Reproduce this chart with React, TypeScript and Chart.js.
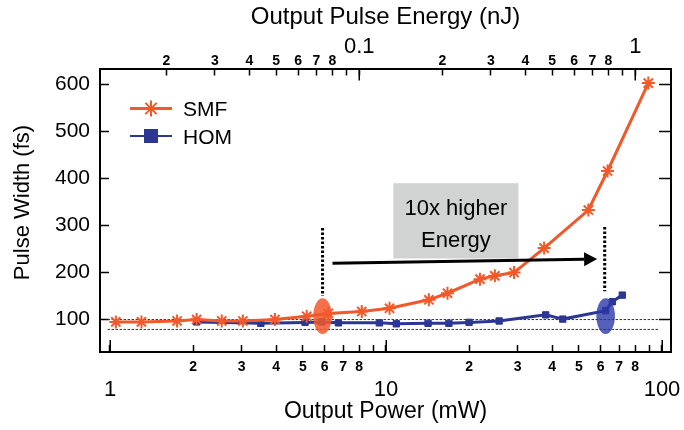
import { useEffect, useRef } from 'react';
import { Chart, registerables } from 'chart.js';

Chart.register(...registerables);

const FONT = "'Liberation Sans', Arial, Helvetica, sans-serif";
const ORANGE = '#F2592A';
const BLUE = '#2C3793';

// Measured pulse width versus average output power
const SMF_POWER = [1.05, 1.3, 1.75, 2.06, 2.54, 3.03, 3.96, 5.16, 6.18, 8.17, 10.3, 14.3, 16.7, 21.9, 24.8, 29.1, 37.4, 54.1, 63.5, 89.2];
const SMF_WIDTH = [95, 95, 97, 100, 97, 97, 100, 107, 113, 117, 124, 142, 156, 186, 193, 200, 252, 333, 416, 603];
const HOM_POWER = [2.06, 3.52, 5.09, 5.85, 6.72, 9.46, 10.9, 14.2, 16.9, 20.0, 25.7, 37.9, 43.7, 62.5, 66.1, 71.8];
const HOM_WIDTH = [95, 92, 94, 95, 93, 93, 91, 92, 92, 94, 97, 110, 101, 119, 138, 152];

// Dotted reference levels (fs) and the power span they cover (mW)
const REF_LEVELS = [100, 79];
const REF_SPAN = [0.98, 98];

// Axes
const POWER_MIN = 0.92;
const POWER_MAX = 107.8;
const REP_RATE_MHZ = 80; // energy (nJ) = power (mW) / rep rate (MHz)
const WIDTH_MIN = 31;
const WIDTH_MAX = 634;
const POWER_TICKS = [1, 2, 3, 4, 5, 6, 7, 8, 9, 10, 20, 30, 40, 50, 60, 70, 80, 90, 100];
const ENERGY_TICKS = [0.02, 0.03, 0.04, 0.05, 0.06, 0.07, 0.08, 0.09, 0.1, 0.2, 0.3, 0.4, 0.5, 0.6, 0.7, 0.8, 0.9, 1];
const WIDTH_TICKS = [100, 200, 300, 400, 500, 600];

// Annotations, in data coordinates (power mW, width fs)
const HIGHLIGHTS = [
  { power: 5.89, fs: 107.4, fill: 'rgba(243, 88, 44, 0.85)' },
  { power: 62.5, fs: 107.4, fill: 'rgba(44, 56, 168, 0.8)' },
];
const GUIDES = [
  { power: 5.89, from: 150, to: 295 },
  { power: 62, from: 160, to: 297 },
];
const ARROW_FROM = [6.4, 220];
const ARROW_TO = [58.2, 228.7];
const NOTE_POWER = [10.63, 30.2];
const NOTE_WIDTH = [230, 390];
const NOTE_LINES = ['10x higher', 'Energy'];

const decade = (v: number) => Math.floor(Math.log10(v) + 1e-9);
const leadDigit = (v: number) => Math.round(v / Math.pow(10, decade(v)));
const isMajor = (v: number) => leadDigit(v) === 1;

const tickLabel = (major: (v: number) => string | string[]) => (value: number | string) => {
  const v = Number(value);
  const d = leadDigit(v);
  if (d === 1) return major(v);
  if (d === 9) return '';
  return String(d);
};

const minorFont = { family: FONT, size: 14, weight: 'bold' as const, lineHeight: 1.2 };

function drawStar(ctx: CanvasRenderingContext2D, x: number, y: number, r: number) {
  ctx.beginPath();
  for (let k = 0; k < 4; k++) {
    const a = (k * Math.PI) / 4;
    ctx.moveTo(x + Math.sin(a) * r, y - Math.cos(a) * r);
    ctx.lineTo(x - Math.sin(a) * r, y + Math.cos(a) * r);
  }
  ctx.stroke();
}

const decorations = {
  id: 'decorations',
  beforeDatasetsDraw(chart: any) {
    const { ctx } = chart;
    const xs = chart.scales.x;
    const ys = chart.scales.y;
    // note box
    const x0 = xs.getPixelForValue(NOTE_POWER[0]);
    const x1 = xs.getPixelForValue(NOTE_POWER[1]);
    const y0 = ys.getPixelForValue(NOTE_WIDTH[1]);
    const y1 = ys.getPixelForValue(NOTE_WIDTH[0]);
    ctx.save();
    ctx.fillStyle = '#D1D2D2';
    ctx.fillRect(x0, y0, x1 - x0, y1 - y0);
    ctx.fillStyle = '#000';
    ctx.font = `22px ${FONT}`;
    ctx.textAlign = 'center';
    ctx.textBaseline = 'alphabetic';
    const cx = (x0 + x1) / 2;
    ctx.fillText(NOTE_LINES[0], cx, y0 + 31.7);
    ctx.fillText(NOTE_LINES[1], cx, y0 + 64);
    ctx.restore();
  },
  afterDatasetsDraw(chart: any) {
    const { ctx } = chart;
    const xs = chart.scales.x;
    const ys = chart.scales.y;
    ctx.save();
    // vertical dotted guides
    ctx.strokeStyle = '#000';
    ctx.lineWidth = 3;
    ctx.setLineDash([2.5, 2]);
    for (const g of GUIDES) {
      const x = xs.getPixelForValue(g.power);
      ctx.beginPath();
      ctx.moveTo(x, ys.getPixelForValue(g.to));
      ctx.lineTo(x, ys.getPixelForValue(g.from));
      ctx.stroke();
    }
    ctx.setLineDash([]);
    // arrow
    const ax0 = xs.getPixelForValue(ARROW_FROM[0]);
    const ay0 = ys.getPixelForValue(ARROW_FROM[1]);
    const ax1 = xs.getPixelForValue(ARROW_TO[0]);
    const ay1 = ys.getPixelForValue(ARROW_TO[1]);
    const ang = Math.atan2(ay1 - ay0, ax1 - ax0);
    const head = 13;
    const half = 7;
    const bx = ax1 - Math.cos(ang) * head;
    const by = ay1 - Math.sin(ang) * head;
    ctx.lineWidth = 3;
    ctx.beginPath();
    ctx.moveTo(ax0, ay0);
    ctx.lineTo(bx, by);
    ctx.stroke();
    ctx.fillStyle = '#000';
    ctx.beginPath();
    ctx.moveTo(ax1, ay1);
    ctx.lineTo(bx + Math.sin(ang) * half, by - Math.cos(ang) * half);
    ctx.lineTo(bx - Math.sin(ang) * half, by + Math.cos(ang) * half);
    ctx.closePath();
    ctx.fill();
    // highlighted operating points
    for (const h of HIGHLIGHTS) {
      ctx.fillStyle = h.fill;
      ctx.beginPath();
      ctx.ellipse(xs.getPixelForValue(h.power), ys.getPixelForValue(h.fs), 9.3, 17.8, 0, 0, Math.PI * 2);
      ctx.fill();
    }
    ctx.restore();
  },
  afterDraw(chart: any) {
    const { ctx, chartArea } = chart;
    const xs = chart.scales.x;
    const xt = chart.scales.x2;
    ctx.save();
    // longer marks on decades
    ctx.strokeStyle = '#000';
    ctx.lineWidth = 1.5;
    for (const v of POWER_TICKS.filter(isMajor)) {
      const x = Math.round(xs.getPixelForValue(v)) + 0.25;
      ctx.beginPath();
      ctx.moveTo(x, chartArea.bottom);
      ctx.lineTo(x, chartArea.bottom - 12);
      ctx.stroke();
    }
    for (const v of ENERGY_TICKS.filter(isMajor)) {
      const x = Math.round(xt.getPixelForValue(v)) + 0.25;
      ctx.beginPath();
      ctx.moveTo(x, chartArea.top);
      ctx.lineTo(x, chartArea.top + 12);
      ctx.stroke();
    }
    // y title
    ctx.fillStyle = '#000';
    ctx.font = `22px ${FONT}`;
    ctx.textAlign = 'center';
    ctx.textBaseline = 'middle';
    ctx.translate(23, chartArea.top + 134);
    ctx.rotate(-Math.PI / 2);
    ctx.fillText('Pulse Width (fs)', 0, 0);
    ctx.restore();

    // legend
    ctx.save();
    const lx = chartArea.left + 30;
    const ly = chartArea.top + 40;
    ctx.lineCap = 'butt';
    ctx.strokeStyle = ORANGE;
    ctx.lineWidth = 3;
    ctx.beginPath();
    ctx.moveTo(lx, ly);
    ctx.lineTo(lx + 42, ly);
    ctx.stroke();
    ctx.lineWidth = 2;
    drawStar(ctx, lx + 21, ly, 8);
    ctx.strokeStyle = BLUE;
    ctx.lineWidth = 2;
    ctx.beginPath();
    ctx.moveTo(lx, ly + 27.5);
    ctx.lineTo(lx + 42, ly + 27.5);
    ctx.stroke();
    ctx.fillStyle = BLUE;
    ctx.fillRect(lx + 14, ly + 20.5, 14, 14);
    ctx.fillStyle = '#000';
    ctx.font = `21px ${FONT}`;
    ctx.textAlign = 'left';
    ctx.textBaseline = 'middle';
    ctx.fillText('SMF', lx + 53, ly + 2);
    ctx.fillText('HOM', lx + 53, ly + 30);
    ctx.restore();
  },
};

const axisGrid = (len: number) => ({
  drawOnChartArea: false,
  tickLength: len,
  tickColor: '#000',
  tickWidth: 1.5,
});
const axisBorder = { display: true, color: '#000', width: 2 };

// fixed scale sizes so the plot box lands where intended
const fixHeight = (h: number) => (s: any) => {
  s.height = h;
  s.paddingLeft = 0;
  s.paddingRight = 0;
};
const fixWidth = (w: number) => (s: any) => {
  s.width = w;
  s.paddingTop = 0;
  s.paddingBottom = 0;
};

export default function App() {
  const ref = useRef<HTMLCanvasElement>(null);

  useEffect(() => {
    if (!ref.current) return;
    Chart.defaults.font.family = FONT;
    Chart.defaults.color = '#000';

    const chart = new Chart(ref.current, {
      type: 'line',
      data: {
        datasets: [
          {
            label: 'SMF',
            data: SMF_POWER.map((p, i) => ({ x: p, y: SMF_WIDTH[i] })),
            borderColor: ORANGE,
            backgroundColor: ORANGE,
            borderWidth: 3,
            pointStyle: 'star',
            pointRadius: 6.5,
            pointBorderWidth: 2,
            pointBorderColor: ORANGE,
            tension: 0,
            order: 0,
          },
          {
            label: 'HOM',
            data: HOM_POWER.map((p, i) => ({ x: p, y: HOM_WIDTH[i] })),
            borderColor: BLUE,
            backgroundColor: BLUE,
            borderWidth: 3,
            pointStyle: 'rect',
            pointRadius: 4.5,
            pointBorderWidth: 1,
            pointBorderColor: BLUE,
            tension: 0,
            order: 1,
          },
          ...REF_LEVELS.map((level) => ({
            label: `${level} fs`,
            data: REF_SPAN.map((p) => ({ x: p, y: level })),
            borderColor: '#333',
            borderWidth: 1,
            borderDash: [2.5, 1.5],
            pointRadius: 0,
            tension: 0,
            order: 10,
          })),
        ],
      },
      options: {
        animation: false,
        responsive: false,
        maintainAspectRatio: false,
        layout: { padding: 0 },
        plugins: {
          legend: { display: false },
          tooltip: { enabled: false },
        },
        scales: {
          x: {
            type: 'logarithmic',
            position: 'bottom',
            min: POWER_MIN,
            max: POWER_MAX,
            afterBuildTicks: (s: any) => {
              s.ticks = POWER_TICKS.map((v) => ({ value: v }));
            },
            afterFit: fixHeight(78),
            grid: axisGrid(-7),
            border: axisBorder,
            ticks: {
              autoSkip: false,
              maxRotation: 0,
              minRotation: 0,
              padding: 13.6,
              color: '#000',
              font: (c: any) =>
                c.tick && isMajor(c.tick.value)
                  ? { family: FONT, size: 22, weight: 'normal', lineHeight: 0.95 }
                  : minorFont,
              callback: tickLabel((v) => ['', String(v)]),
            },
            title: {
              display: true,
              text: 'Output Power (mW)',
              color: '#000',
              font: { family: FONT, size: 23 },
              padding: { top: 0, bottom: 5 },
            },
          },
          x2: {
            type: 'logarithmic',
            position: 'top',
            min: POWER_MIN / REP_RATE_MHZ,
            max: POWER_MAX / REP_RATE_MHZ,
            afterBuildTicks: (s: any) => {
              s.ticks = ENERGY_TICKS.map((v) => ({ value: v }));
            },
            afterFit: fixHeight(68.5),
            grid: axisGrid(-7),
            border: axisBorder,
            ticks: {
              autoSkip: false,
              maxRotation: 0,
              minRotation: 0,
              padding: 6,
              color: '#000',
              font: (c: any) =>
                c.tick && isMajor(c.tick.value)
                  ? { family: FONT, size: 22, weight: 'normal', lineHeight: 0.68 }
                  : minorFont,
              callback: tickLabel((v) => [String(v), '']),
            },
            title: {
              display: true,
              text: 'Output Pulse Energy (nJ)',
              color: '#000',
              font: { family: FONT, size: 24 },
              padding: { top: 3, bottom: 0 },
            },
          },
          y: {
            type: 'linear',
            position: 'left',
            min: WIDTH_MIN,
            max: WIDTH_MAX,
            afterBuildTicks: (s: any) => {
              s.ticks = WIDTH_TICKS.map((v) => ({ value: v }));
            },
            afterFit: fixWidth(100),
            grid: axisGrid(-9),
            border: axisBorder,
            ticks: {
              padding: 19,
              color: '#000',
              font: { family: FONT, size: 21 },
            },
          },
          y2: {
            type: 'linear',
            position: 'right',
            min: WIDTH_MIN,
            max: WIDTH_MAX,
            afterBuildTicks: (s: any) => {
              s.ticks = WIDTH_TICKS.map((v) => ({ value: v }));
            },
            afterFit: fixWidth(13),
            grid: axisGrid(-12),
            border: axisBorder,
            ticks: { display: false },
          },
        },
      },
      plugins: [decorations],
    } as any);

    return () => chart.destroy();
  }, []);

  return (
    <div style={{ position: 'absolute', left: 0, top: 0, width: 684, height: 430, background: '#fff' }}>
      <canvas ref={ref} width={684} height={430} style={{ display: 'block' }} />
    </div>
  );
}
